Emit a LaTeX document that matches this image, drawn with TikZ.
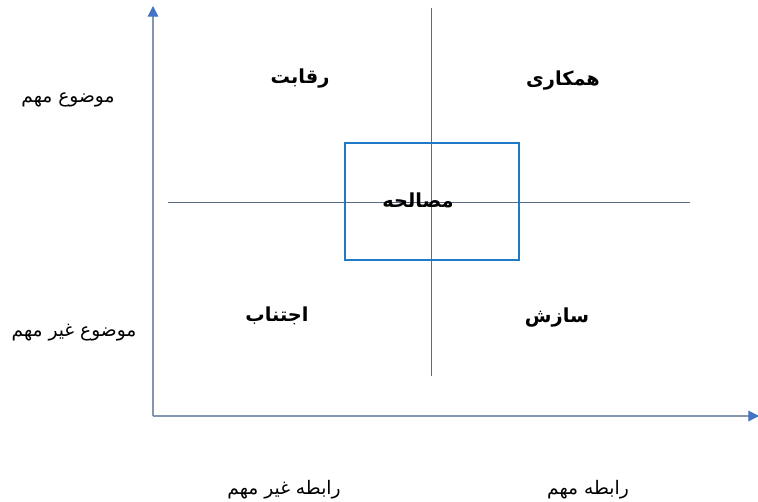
\documentclass[tikz,border=0pt]{standalone}
\usepackage{fontspec}
\usetikzlibrary{arrows.meta,positioning}
\TeXXeTstate=1
\newfontfamily\arabicfont[Script=Arabic]{DejaVu Sans}
\newcommand{\fa}[1]{\arabicfont\beginR #1\endR}
\definecolor{axisline}{HTML}{8497B0}
\definecolor{axistip}{HTML}{4472C4}
\definecolor{crossline}{HTML}{5A6B86}
\definecolor{boxblue}{HTML}{1F7BC8}

\begin{document}
\begin{tikzpicture}[x=0.75pt,y=-0.75pt,
  axis/.style={axisline, line width=0.9pt, -{Triangle[length=8pt,width=8pt,fill=axistip,color=axistip]}},
  cross/.style={crossline, line width=0.6pt},
  quad/.style={font=\fontsize{14.5}{16}\selectfont\bfseries, inner sep=0pt},
  side/.style={font=\fontsize{14}{16}\selectfont, inner sep=0pt}]
\useasboundingbox (0,0) rectangle (758,501);

% axes
\coordinate (o) at (153,416);
\coordinate (ytop) at (153,6);
\coordinate (xend) at (759,416);
\draw[axis] (o) -- (ytop);
\draw[axis] (o) -- (xend);

% cross
\coordinate (hl) at (168,202);
\coordinate (hr) at (690,202);
\coordinate (vt) at (431,8);
\coordinate (vb) at (431,376);
\draw[cross] (hl) -- (hr);
\draw[cross] (vt) -- (vb);

% middle box
\draw[boxblue, line width=1.1pt] (345,143) rectangle (519,260);

% quadrants
\node[quad] (comp) at (300,79) {\fa{رقابت}};
\node[quad] (coll) at (563,81) {\fa{همکاری}};
\node[quad] (compro) at (418,200) {\fa{مصالحه}};
\node[quad] (avoid) at (277,316) {\fa{اجتناب}};
\node[quad] (accom) at (557,318) {\fa{سازش}};

% axis labels
\node[side] (ihigh) at (68,100) {\fa{موضوع مهم}};
\node[side] (ilow) at (74,333) {\fa{موضوع غیر مهم}};
\node[side] (rlow) at (284,490) {\fa{رابطه غیر مهم}};
\node[side] (rhigh) at (588,490) {\fa{رابطه مهم}};
\end{tikzpicture}
\end{document}
